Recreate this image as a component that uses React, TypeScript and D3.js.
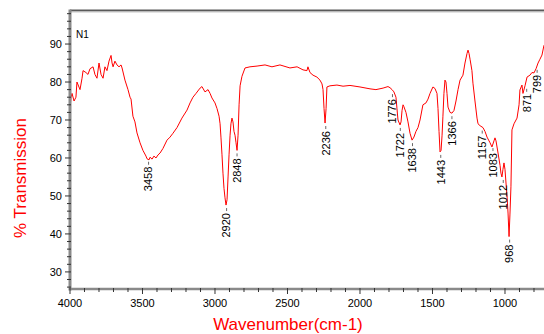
import * as d3 from "d3";
import React from "react";

// spectrum trace: [wavenumber, %T]
const wavenumbers = [
  4000, 3993, 3986, 3972, 3959, 3952, 3931, 3917, 3910, 3890, 3876, 3862, 3841, 3828, 3814, 3800, 3786, 3772,
  3759, 3745, 3731, 3717, 3710, 3703, 3690, 3676, 3662, 3648, 3641, 3621, 3600, 3586, 3579, 3566, 3552, 3538,
  3517, 3497, 3476, 3469, 3455, 3448, 3434, 3421, 3407, 3393, 3379, 3359, 3331, 3310, 3290, 3262, 3228, 3193,
  3172, 3152, 3131, 3103, 3090, 3069, 3048, 3034, 3021, 3000, 2986, 2972, 2965, 2959, 2952, 2945, 2938, 2931,
  2924, 2917, 2910, 2903, 2896, 2890, 2883, 2876, 2869, 2862, 2855, 2848, 2841, 2834, 2827, 2814, 2793, 2759,
  2710, 2655, 2607, 2552, 2483, 2434, 2393, 2366, 2359, 2345, 2324, 2297, 2276, 2262, 2255, 2248, 2241, 2234,
  2228, 2207, 2159, 2117, 2069, 2000, 1931, 1890, 1841, 1807, 1793, 1779, 1766, 1752, 1745, 1738, 1724, 1717,
  1710, 1703, 1697, 1683, 1669, 1655, 1641, 1628, 1614, 1600, 1586, 1566, 1545, 1531, 1517, 1497, 1483, 1469,
  1462, 1455, 1448, 1441, 1434, 1428, 1421, 1414, 1407, 1400, 1393, 1379, 1366, 1352, 1338, 1324, 1310, 1290,
  1276, 1262, 1255, 1248, 1241, 1228, 1221, 1207, 1193, 1186, 1172, 1152, 1138, 1124, 1103, 1090, 1076, 1069,
  1062, 1048, 1034, 1028, 1021, 1014, 1007, 1000, 993, 986, 979, 972, 966, 959, 952, 938, 917, 903, 897, 883,
  876, 862, 848, 828, 814, 800, 786, 772, 759, 745, 731,
];
const transmission = [
  73, 76, 77, 75, 76, 80, 78, 81, 83, 82.5, 82, 83.5, 84, 82, 81, 85, 82, 81,
  84, 83, 85.5, 87, 85, 84, 85.5, 84.5, 84, 84.5, 83.7, 80.5, 78, 76, 75.5, 71, 69.5, 66.6,
  64, 62, 60.5, 59.8, 59.5, 60.2, 59.7, 60.5, 60, 60.8, 61.3, 62.5, 64.7, 65.5, 66.5, 68, 70.5, 72.6,
  74.5, 76, 77, 78.4, 78.8, 77.4, 78, 77, 75.8, 74.5, 73, 71, 69, 65.5, 61, 56, 52, 49.5,
  47.6, 49, 55, 61, 66, 69, 70.5, 69.5, 67, 66, 64, 62, 66, 74, 79, 81.5, 83.7, 84,
  84.2, 84.5, 84, 84.5, 83.7, 84, 83.2, 83, 84, 82.5, 81.8, 81.3, 80.5, 79.5, 78, 73, 69.2, 73,
  78.7, 79, 79.2, 78.9, 79.1, 78.7, 78.2, 78, 78.4, 78.8, 78.5, 78, 77.4, 76, 73, 70, 68.7, 69.5,
  72.5, 74, 73.5, 72, 69.5, 66.5, 64.7, 65.5, 67, 68, 70, 74, 74.5, 75.5, 77, 78.7, 78.3, 77,
  73, 67, 61.6, 62, 66, 71, 77, 80.5, 80, 77, 73.4, 72, 71.8, 72.5, 75, 78, 80.5, 81.8,
  85, 87.5, 88.4, 87.5, 86, 83, 79.7, 75, 70.5, 69, 68.5, 68, 67, 65.5, 64, 62.9, 64.5, 65.3,
  64.5, 61.3, 58, 56, 55, 57, 58.7, 57, 53.4, 50, 45.5, 39.3, 45, 52.4, 67.4, 69, 70.5, 74, 77.9, 79.2,
  77, 79, 81.3, 81.8, 82.5, 82.4, 83.5, 85, 86, 87.1, 89.7,
];

// annotated peaks
const peakLabels = ["3458", "2920", "2848", "2236", "1776", "1722", "1638", "1443", "1366", "1157", "1083", "1012", "968", "871", "799"];
const peakValues = [59.8, 47.6, 62, 69.2, 77.6, 68.7, 64.7, 61.6, 71.8, 68, 63.4, 55, 39.3, 79, 84];

const xTicks = [4000, 3500, 3000, 2500, 2000, 1500, 1000];
const yTicks = [30, 40, 50, 60, 70, 80, 90];

const W = 544;
const H = 334;
const margin = { top: 11, right: 0, bottom: 45, left: 70 };
const font = "'Liberation Sans', Arial, sans-serif";
const axisColor = "#8a8a8a";
// labels that sit beside the curve instead of under it
const labelNudge: Record<string, number> = { "871": 3, "799": 3 };

export default function App() {
  const x = d3.scaleLinear().domain([4000, 731]).range([margin.left, W - margin.right]);
  const y = d3.scaleLinear().domain([25.5, 98.7]).range([H - margin.bottom, margin.top]);

  const pts: [number, number][] = wavenumbers.map((w, i) => [w, transmission[i]]);
  const line = d3
    .line<[number, number]>()
    .x((d) => x(d[0]))
    .y((d) => y(d[1]));

  const minorX = d3.range(3900, 700, -100).filter((v) => v % 500 !== 0);
  const minorY = d3.range(26, 99, 2).filter((v) => v % 10 !== 0);
  const bottom = H - margin.bottom;

  return (
    <svg width={W} height={H} style={{ position: "absolute", left: 0, top: 0, background: "#fff" }} fontFamily={font}>
      <path d={line(pts) || ""} fill="none" stroke="#ff0000" strokeWidth={1} />

      {/* frame */}
      <line x1={margin.left} x2={W} y1={margin.top - 0.5} y2={margin.top - 0.5} stroke="#5a5a5a" strokeWidth={2} />
      <line x1={margin.left} x2={W} y1={margin.top + 1} y2={margin.top + 1} stroke="#c8c8c8" strokeWidth={1} />
      <line x1={margin.left} x2={margin.left} y1={margin.top - 1.5} y2={bottom + 1.5} stroke={axisColor} strokeWidth={3} />
      <line x1={margin.left} x2={W} y1={bottom} y2={bottom} stroke={axisColor} strokeWidth={2.5} />

      {/* y axis */}
      {minorY.map((v) => (
        <line key={"my" + v} x1={margin.left - 3} x2={margin.left + 1} y1={y(v)} y2={y(v)} stroke="#333" strokeWidth={1} />
      ))}
      {yTicks.map((v) => (
        <g key={"y" + v}>
          <line x1={margin.left - 5} x2={margin.left + 1} y1={y(v)} y2={y(v)} stroke="#333" strokeWidth={1} />
          <text x={margin.left - 8} y={y(v)} dy="0.35em" textAnchor="end" fontSize={11} fill="#000">
            {v}
          </text>
        </g>
      ))}

      {/* x axis */}
      {minorX.map((v) => (
        <line key={"mx" + v} x1={x(v)} x2={x(v)} y1={bottom - 1} y2={bottom + 3} stroke="#333" strokeWidth={1} />
      ))}
      {xTicks.map((v) => (
        <g key={"x" + v}>
          <line x1={x(v)} x2={x(v)} y1={bottom - 1} y2={bottom + 5} stroke="#333" strokeWidth={1} />
          <text x={x(v)} y={bottom + 18} textAnchor="middle" fontSize={11} fill="#000">
            {v}
          </text>
        </g>
      ))}

      {/* peak labels */}
      {peakLabels.map((lab, i) => {
        const px = x(+lab) + (labelNudge[lab] || 0);
        const py = y(peakValues[i]) + 8;
        return (
          <g key={lab}>
            <line x1={px} x2={px} y1={py - 5} y2={py - 2} stroke="#000" strokeWidth={0.6} />
            <text
              transform={`translate(${px},${py}) rotate(-90)`}
              dy="0.35em"
              textAnchor="end"
              fontSize={11}
              fill="#000"
            >
              {lab}
            </text>
          </g>
        );
      })}

      <text x={76} y={38} fontSize={10} fill="#000">
        N1
      </text>

      <text transform={`translate(26,178) rotate(-90)`} textAnchor="middle" fontSize={17} fill="#ff0000">
        % Transmission
      </text>
      <text x={288} y={330} textAnchor="middle" fontSize={17} fill="#ff0000">
        Wavenumber(cm-1)
      </text>
    </svg>
  );
}
